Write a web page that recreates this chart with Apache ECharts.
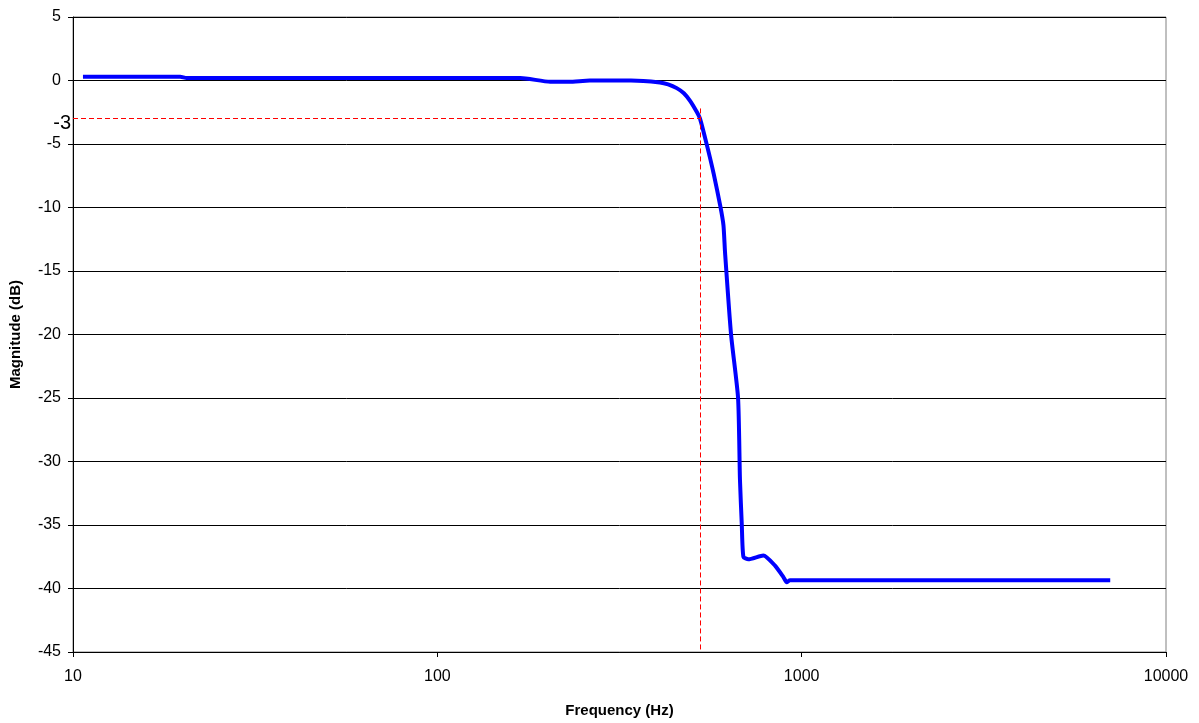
<!DOCTYPE html>
<html>
<head>
<meta charset="utf-8">
<title>Frequency response</title>
<script src="https://cdn.jsdelivr.net/npm/echarts@6/dist/echarts.min.js"></script>
<style>
	html, body { margin: 0; padding: 0; background: #fff; }
	#chart { width: 1199px; height: 723px; }
</style>
</head>
<body>
<div id="chart"></div>
<script>
// frequency (Hz) and magnitude (dB)
var freqHz = [10.65, 19.7, 20.5, 169, 204, 230, 262, 340, 408, 430, 454, 475, 494, 516, 526, 549, 573, 598, 610, 616, 640, 669, 677, 685, 692, 714, 785, 845, 891, 910, 929, 7030];
var magDb  = [0.3, 0.3, 0.2, 0.2, -0.1, -0.1, 0.0, 0.0, -0.15, -0.3, -0.6, -1.0, -1.6, -2.5, -3.0, -5.05, -7.3, -9.9, -11.4, -13.5, -20, -25, -31.4, -35, -37.5, -37.7, -37.4, -38.2, -39.1, -39.5, -39.35, -39.35];

// -3 dB cut-off marker
var cutoffHz = 526;
var cutoffDb = -3;
var cutoffTopDb = -2.2;

var yTicks = [5, 0, -5, -10, -15, -20, -25, -30, -35, -40, -45];
var xTicks = [10, 100, 1000, 10000];

var seriesData = [];
for (var i = 0; i < freqHz.length; i++) {
	seriesData.push([freqHz[i], magDb[i]]);
}

var myChart = echarts.init(document.getElementById('chart'));
var option = {
	animation: false,
	backgroundColor: '#fff',
	textStyle: { fontFamily: 'Arial, "Liberation Sans", sans-serif' },
	grid: {
		left: 73, right: 33, top: 17, bottom: 71,
		outerBoundsMode: 'none',
		containLabel: false,
		show: true,
		borderColor: '#808080',
		borderWidth: 1
	},
	xAxis: {
		type: 'log',
		logBase: 10,
		min: xTicks[0],
		max: xTicks[xTicks.length - 1],
		name: 'Frequency (Hz)',
		nameLocation: 'middle',
		nameGap: 51,
		nameTextStyle: { fontSize: 15, fontWeight: 'bold', color: '#000' },
		axisLine: { onZero: false, lineStyle: { color: '#000', width: 1 } },
		axisTick: { show: true, inside: false, length: 5, lineStyle: { color: '#000' } },
		minorTick: { show: false },
		axisLabel: {
			fontSize: 16, color: '#000', margin: 17,
			formatter: function (v) { return String(Math.round(v)); }
		},
		splitLine: { show: false }
	},
	yAxis: {
		type: 'value',
		min: yTicks[yTicks.length - 1],
		max: yTicks[0],
		interval: 5,
		name: 'Magnitude (dB)',
		nameLocation: 'middle',
		nameGap: 50,
		nameTextStyle: { fontSize: 15, fontWeight: 'bold', color: '#000' },
		axisLine: { show: true, lineStyle: { color: '#000', width: 1 } },
		axisTick: { show: true, inside: false, length: 5, lineStyle: { color: '#000' } },
		axisLabel: { fontSize: 16, color: '#000', margin: 12 },
		splitLine: { show: true, lineStyle: { color: '#000', width: 1 } }
	},
	series: [
		{
			type: 'line',
			data: seriesData,
			symbol: 'none',
			smooth: 0.2,
			lineStyle: { color: '#0000ff', width: 4 },
			z: 3,
			markLine: {
				silent: true,
				symbol: ['none', 'none'],
				lineStyle: { color: '#ff0000', type: [5, 3], width: 1 },
				data: [
					[
						{ coord: [xTicks[0], cutoffDb], label: { show: true, position: 'start', formatter: '-3', fontSize: 20, color: '#000', distance: 2, offset: [0, 5] } },
						{ coord: [cutoffHz, cutoffDb] }
					],
					[
						{ coord: [cutoffHz, cutoffTopDb], label: { show: false } },
						{ coord: [cutoffHz, yTicks[yTicks.length - 1]] }
					]
				],
				label: { show: false }
			}
		}
	]
};
myChart.setOption(option);
</script>
</body>
</html>
